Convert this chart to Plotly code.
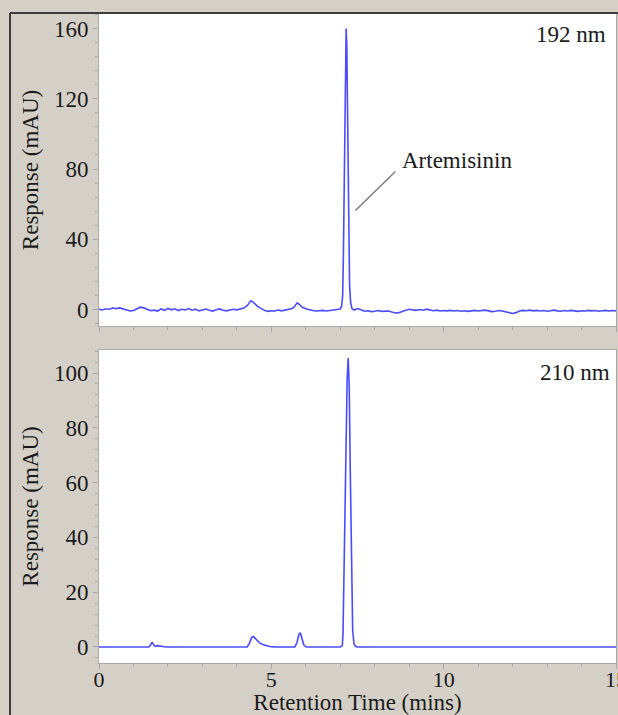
import plotly.graph_objects as go

# ---- 192 nm trace (top panel) ----
t192 = [0.0, 0.1, 0.2, 0.3, 0.4, 0.5, 0.6, 0.7, 0.8, 0.9, 1.0, 1.1, 1.2, 1.3, 1.4, 1.5, 1.6, 1.7, 1.8, 1.9,
        2.0, 2.1, 2.2, 2.3, 2.4, 2.5, 2.6, 2.7, 2.8, 2.9, 3.0, 3.1, 3.2, 3.3, 3.4, 3.5, 3.6, 3.7, 3.8, 3.9,
        4.0, 4.1, 4.2, 4.3, 4.35, 4.4, 4.45, 4.5, 4.6, 4.7, 4.8, 4.9, 5.0, 5.1, 5.2, 5.3, 5.4, 5.5, 5.6, 5.65,
        5.7, 5.75, 5.8, 5.9, 6.0, 6.1, 6.2, 6.3, 6.4, 6.5, 6.6, 6.7, 6.8, 6.9, 7.0, 7.04, 7.07, 7.09, 7.11, 7.13,
        7.15, 7.17, 7.19, 7.21, 7.23, 7.25, 7.27, 7.3, 7.34, 7.4, 7.5, 7.6, 7.7, 7.8, 7.9, 8.0, 8.1, 8.2, 8.3, 8.4,
        8.5, 8.6, 8.7, 8.8, 8.9, 9.0, 9.1, 9.2, 9.3, 9.4, 9.5, 9.6, 9.7, 9.8, 9.9, 10.0, 10.1, 10.2, 10.3, 10.4,
        10.5, 10.6, 10.7, 10.8, 10.9, 11.0, 11.1, 11.2, 11.3, 11.4, 11.5, 11.6, 11.7, 11.8, 11.9, 12.0, 12.1, 12.2, 12.3, 12.4,
        12.5, 12.6, 12.7, 12.8, 12.9, 13.0, 13.1, 13.2, 13.3, 13.4, 13.5, 13.6, 13.7, 13.8, 13.9, 14.0, 14.1, 14.2, 14.3, 14.4,
        14.5, 14.6, 14.7, 14.8, 14.9, 15.0]
r192 = [0.2, -0.3, 0.4, 0.1, 0.8, 0.5, 0.9, 0.2, -0.4, -0.9, -0.6, 0.6, 1.3, 0.9, 0.2, -0.7, -0.4, -0.9, 0.3, -0.5,
        0.6, -0.2, 0.4, -0.6, 0.1, -0.3, 0.5, -0.4, 0.2, -0.8, -0.3, 0.2, -0.5, -0.9, -0.2, 0.3, -0.4, -0.8, -0.3, 0.1,
        -0.2, 0.4, 0.8, 2.2, 3.8, 4.9, 4.6, 3.6, 1.8, 0.6, -0.5, -1.1, -0.7, -0.9, -0.3, -0.8, -0.4, 0.2, 0.6, 1.2,
        2.4, 3.8, 3.0, 1.2, 0.4, -0.2, -0.6, -0.9, -0.8, -0.5, -0.9, -0.6, -0.3, -0.1, 0.3, 2.0, 8.0, 30.0, 70.0, 115.0,
        148.0, 160.0, 150.0, 118.0, 75.0, 38.0, 14.0, 4.0, 0.5, -0.3, 0.5, -0.2, -1.0, -0.7, -1.2, -1.0, -0.6, -1.1, -0.8, -0.9,
        -1.5, -2.0, -1.8, -1.0, -0.4, 0.1, -0.2, -0.5, 0.0, -0.4, 0.2, -0.3, -0.7, -0.4, -0.9, -0.6, -0.8, -0.5, -0.9, -0.6,
        -1.0, -0.7, -1.1, -0.8, -0.5, -0.9, -0.7, -0.4, -0.8, -1.2, -1.0, -0.6, -0.9, -1.4, -2.0, -2.3, -1.8, -0.9, -0.5, -0.7,
        -0.4, -0.8, -0.5, -0.9, -0.6, -1.0, -0.7, -0.4, -0.8, -1.0, -0.6, -0.9, -0.5, -0.8, -1.1, -0.7, -0.9, -0.5, -0.8, -0.6,
        -1.0, -0.7, -0.5, -0.9, -0.6, -0.8]

# ---- 210 nm trace (bottom panel) ----
t210 = [0.0, 1.0, 1.45, 1.5, 1.54, 1.58, 1.62, 1.68, 1.75, 1.85, 1.95, 3.0, 4.3, 4.37, 4.43, 4.48, 4.55, 4.65, 4.75, 4.85,
        4.95, 5.1, 5.2, 5.68, 5.74, 5.8, 5.84, 5.88, 5.94, 6.0, 6.05, 7.0, 7.06, 7.08, 7.1, 7.13, 7.16, 7.2, 7.23, 7.26,
        7.29, 7.31, 7.34, 7.36, 7.4, 7.45, 7.5, 10.0, 12.5, 15.0]
r210 = [0.0, 0.0, 0.0, 0.8, 1.8, 0.9, 0.3, 0.5, 0.4, 0.1, 0.0, 0.0, 0.0, 1.5, 3.5, 3.8, 2.8, 1.6, 0.9, 0.5,
        0.2, 0.05, 0.0, 0.0, 1.5, 4.6, 5.2, 3.5, 0.8, 0.1, 0.0, 0.0, 0.5, 5.0, 20.0, 43.0, 70.0, 98.0, 105.5, 95.0,
        65.0, 43.0, 18.0, 6.0, 1.0, 0.2, 0.0, 0.0, 0.0, 0.0]

panel_labels = ["192 nm", "210 nm"]
peak_name = "Artemisinin"
x_ticks = [0, 5, 10, 15]
y_title = "Response (mAU)"
x_title = "Retention Time (mins)"

FONT = "Liberation Serif"
LINE = "#4b4bff"
BG = "#d4d0c8"
AX = "#a8a8a8"

fig = go.Figure()
fig.add_trace(go.Scatter(x=t192, y=r192, mode="lines", line=dict(color=LINE, width=1.6),
                         xaxis="x2", yaxis="y2", showlegend=False))
fig.add_trace(go.Scatter(x=t210, y=r210, mode="lines", line=dict(color=LINE, width=1.6),
                         xaxis="x", yaxis="y", showlegend=False))

tickfont = dict(family=FONT, size=23, color="#1a1a1a")
xtickfont = dict(family=FONT, size=22, color="#1a1a1a")
common_x = dict(range=[0, 15], showgrid=False, zeroline=False, showline=True, linecolor=AX, linewidth=1,
                mirror=True, ticks="outside", ticklen=5, tickcolor=AX, tickvals=x_ticks, automargin=False,
                minor=dict(dtick=1, ticks="outside", ticklen=3, tickcolor=AX))
common_y = dict(showgrid=False, zeroline=False, showline=True, linecolor=AX, linewidth=1, mirror=True,
                ticks="outside", ticklen=5, tickcolor=AX, tickfont=tickfont, automargin=False)

fig.update_layout(
    width=618, height=715,
    margin=dict(l=99, r=2, t=14, b=52),
    paper_bgcolor=BG, plot_bgcolor="white",
    font=dict(family=FONT, size=23, color="#1a1a1a"),
    xaxis=dict(**common_x, anchor="y", domain=[0, 1], tickfont=xtickfont,
               ticklabeloverflow="allow", ticklabelstandoff=-8,
               title=dict(text=x_title, font=tickfont, standoff=12)),
    xaxis2=dict(**common_x, anchor="y2", domain=[0, 1], matches="x", showticklabels=False),
    yaxis=dict(**common_y, domain=[0, 0.4823], range=[-5.84, 108.4], tickvals=[0, 20, 40, 60, 80, 100],
               minor=dict(dtick=4, ticks="outside", ticklen=3, tickcolor=AX),
               title=dict(text=y_title, font=tickfont, standoff=8)),
    yaxis2=dict(**common_y, domain=[0.5193, 1], range=[-9.4, 168.3], tickvals=[0, 40, 80, 120, 160],
                minor=dict(dtick=8, ticks="outside", ticklen=3, tickcolor=AX),
                title=dict(text=y_title, font=tickfont, standoff=8)),
)

fig.add_annotation(text=panel_labels[0], xref="x2 domain", yref="y2 domain", x=0.985, y=0.933,
                   xanchor="right", yanchor="middle", showarrow=False, font=tickfont)
fig.add_annotation(text=panel_labels[1], xref="x domain", yref="y domain", x=0.992, y=0.927,
                   xanchor="right", yanchor="middle", showarrow=False, font=tickfont)
fig.add_annotation(text=peak_name, xref="x2", yref="y2", x=8.72, y=84.9,
                   xanchor="left", yanchor="middle", showarrow=False, font=tickfont)
fig.add_shape(type="line", xref="x2", yref="y2", x0=7.44, y0=56.4, x1=8.6, y1=78.6,
              line=dict(color="#707070", width=1.2))

# outer frame lines (top and left)
fig.add_shape(type="line", xref="paper", yref="paper", x0=-0.1721, y0=1.0015, x1=1.01, y1=1.0015,
              line=dict(color="#3c3c3c", width=2))
fig.add_shape(type="line", xref="paper", yref="paper", x0=-0.1721, y0=1.0015, x1=-0.1721, y1=-0.09,
              line=dict(color="#3c3c3c", width=2))

fig.write_html("out.html")
